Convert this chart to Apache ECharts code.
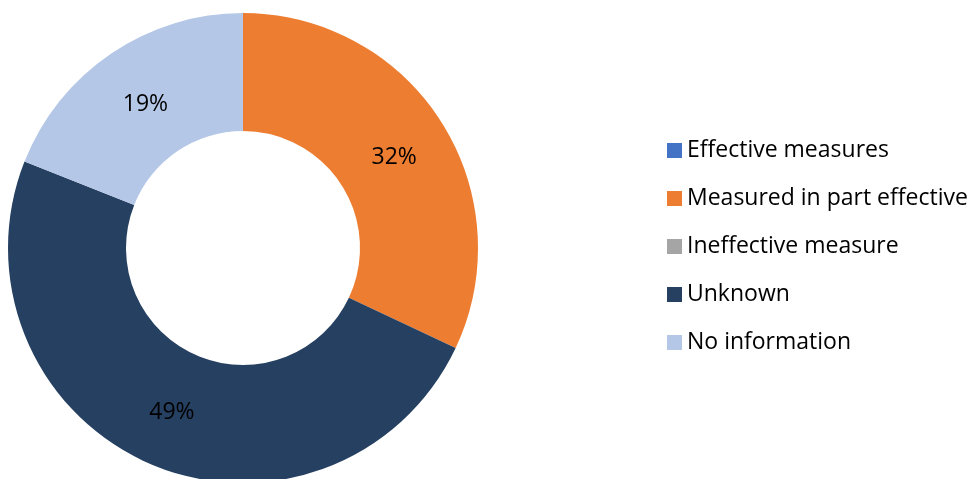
<!DOCTYPE html>
<html>
<head>
<meta charset="utf-8">
<script src="https://cdn.jsdelivr.net/npm/echarts@6/dist/echarts.min.js"></script>
<style>
  html, body { margin: 0; padding: 0; background: #fff; }
  #chart { width: 977px; height: 479px; }
</style>
</head>
<body>
<div id="chart"></div>
<script>
const categories = [
  "Effective measures",
  "Measured in part effective",
  "Ineffective measure",
  "Unknown",
  "No information",
];
const values = [0, 32, 0, 49, 19];
const colors = ["#4472C4", "#ED7D31", "#A5A5A5", "#264061", "#B4C7E7"];
// small nudges so the percent labels sit where the original ones do
const labelOffsets = [[0, 0], [0, 5], [0, 0], [0, 0], [3, 5]];

const chart = echarts.init(document.getElementById("chart"));
const option = {
  animation: false,
  color: colors,
  legend: {
    orient: "vertical",
    left: 667,
    top: 139,
    padding: 0,
    itemWidth: 15,
    itemHeight: 15,
    itemGap: 25,
    icon: "rect",
    data: categories,
    textStyle: {
      fontFamily: "Open Sans",
      fontSize: 23,
      lineHeight: 23,
      color: "#000",
    },
  },
  series: [
    {
      type: "pie",
      center: [243, 248],
      radius: [117, 235],
      startAngle: 90,
      clockwise: true,
      avoidLabelOverlap: false,
      emphasis: { disabled: true },
      itemStyle: { borderWidth: 0 },
      label: {
        show: true,
        position: "inside",
        color: "#000",
        fontFamily: "Open Sans",
        fontSize: 23,
        formatter: (p) => (p.value === 0 ? "" : Math.round(p.percent) + "%"),
      },
      labelLine: { show: false },
      data: categories.map((name, i) => ({
        name,
        value: values[i],
        label: { offset: labelOffsets[i] },
      })),
    },
  ],
};
chart.setOption(option);
</script>
</body>
</html>
